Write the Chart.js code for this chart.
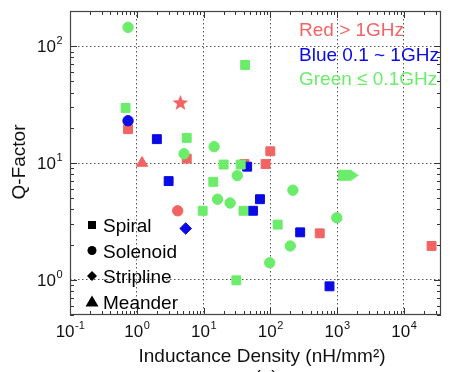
<!DOCTYPE html>
<html>
<head>
<meta charset="utf-8">
<script src="https://cdn.jsdelivr.net/npm/chart.js"></script>
<style>
  html, body { margin: 0; padding: 0; background: #fff; }
  canvas { display: block; }
</style>
</head>
<body>
<canvas id="qchart" width="452" height="372"></canvas>
<script>
// Inductance density (nH/mm^2) vs Q-factor, grouped by operating frequency
const redX = [0.74, 4.5, 1.2, 5.6, 41, 85, 100, 4.1, 550, 26000];
const redY = [19.5, 33, 10, 10.9, 9.8, 9.8, 12.6, 3.9, 2.5, 1.95];
const redShape = ['rect', 'star', 'triangle', 'rect', 'rect', 'rect', 'rect', 'circle', 'rect', 'rect'];

const blueX = [0.74, 2.0, 3.0, 5.4, 45, 55, 70, 280, 770];
const blueY = [23, 16, 7.0, 2.75, 9.3, 3.9, 4.9, 2.55, 0.88];
const blueShape = ['circle', 'rect', 'rect', 'diamond', 'rect', 'rect', 'rect', 'rect', 'rect'];

const greenX = [0.74, 0.68, 42, 5.6, 14.4, 5.1, 20, 36, 32, 14, 16.2, 25, 9.7, 39.6, 31, 1500, 218, 129, 199, 990, 98];
const greenY = [145, 29.6, 69, 16.4, 13.8, 12, 9.7, 9.7, 7.8, 6.9, 4.9, 4.55, 3.9, 3.9, 0.99, 7.85, 5.85, 2.97, 1.95, 3.4, 1.4];
const greenShape = ['circle', 'rect', 'rect', 'rect', 'circle', 'circle', 'rect', 'rect', 'circle', 'rect', 'circle', 'circle',
  'rect', 'rect', 'rect', 'arrow', 'circle', 'rect', 'circle', 'circle', 'circle'];

const xExps = [-1, 0, 1, 2, 3, 4];
const yExps = [0, 1, 2];
const bandLabels = ['Red > 1GHz', 'Blue 0.1 ~ 1GHz', 'Green \u2264 0.1GHz'];
const shapeLabels = ['Spiral', 'Solenoid', 'Stripline', 'Meander'];
const shapeKeys = ['rect', 'circle', 'diamond', 'triangle'];

const RED = '#f26464';
const BLUE = '#0a0ae6';
const GREEN = '#6bec6b';
const FONT = '"Liberation Sans", Arial, sans-serif';

// filled five point star, drawn once into a small canvas
function makeStar(color) {
  const c = document.createElement('canvas');
  c.width = 17; c.height = 17;
  const g = c.getContext('2d');
  g.fillStyle = color;
  g.beginPath();
  for (let i = 0; i < 10; i++) {
    const r = i % 2 === 0 ? 8.3 : 3.5;
    const a = -Math.PI / 2 + i * Math.PI / 5;
    g.lineTo(8.5 + r * Math.cos(a), 9.2 + r * Math.sin(a));
  }
  g.closePath();
  g.fill();
  return c;
}

// right pointing block arrow
function makeArrow(color) {
  const c = document.createElement('canvas');
  c.width = 22; c.height = 13;
  const g = c.getContext('2d');
  g.fillStyle = color;
  g.beginPath();
  g.moveTo(0, 1); g.lineTo(13, 1); g.lineTo(21, 6.5); g.lineTo(13, 12); g.lineTo(0, 12);
  g.closePath();
  g.fill();
  return c;
}

const customStyles = { star: makeStar(RED), arrow: makeArrow(GREEN) };
const styleOf = s => customStyles[s] || ({ rect: 'rect', circle: 'circle', diamond: 'rectRot', triangle: 'triangle' })[s];
const radiusOf = s => ({ rect: 6.3, circle: 5.2, diamond: 5.8, triangle: 6.5, star: 8, arrow: 10 })[s];

function series(label, xs, ys, shapes, color) {
  return {
    label,
    data: xs.map((v, i) => ({ x: v, y: ys[i] })),
    pointStyle: shapes.map(styleOf),
    pointRadius: shapes.map(radiusOf),
    backgroundColor: color,
    borderColor: color,
    pointBorderWidth: 1
  };
}

const isDecade = v => Math.abs(Math.log10(v) - Math.round(Math.log10(v))) < 1e-6;

function drawPow(ctx, exp, x, y, align) {
  ctx.font = '17px ' + FONT;
  const base = '10';
  const wb = ctx.measureText(base).width;
  ctx.font = '11px ' + FONT;
  const sup = String(exp);
  const ws = ctx.measureText(sup).width;
  let left = align === 'center' ? x - (wb + ws) / 2 : x - (wb + ws);
  ctx.font = '17px ' + FONT;
  ctx.fillText(base, left, y);
  ctx.font = '11px ' + FONT;
  ctx.fillText(sup, left + wb + 0.5, y - 8);
}

function drawMarker(ctx, shape, x, y) {
  ctx.beginPath();
  if (shape === 'rect') {
    ctx.rect(x - 4, y - 4, 8, 8);
  } else if (shape === 'circle') {
    ctx.arc(x, y, 4.5, 0, Math.PI * 2);
  } else if (shape === 'diamond') {
    ctx.moveTo(x, y - 5); ctx.lineTo(x + 5, y); ctx.lineTo(x, y + 5); ctx.lineTo(x - 5, y);
  } else {
    ctx.moveTo(x, y - 6); ctx.lineTo(x + 6.5, y + 5); ctx.lineTo(x - 6.5, y + 5);
  }
  ctx.closePath();
  ctx.fill();
}

const frameAndText = {
  id: 'frameAndText',
  afterDraw(chart) {
    const { ctx, chartArea: a, scales: { x, y } } = chart;
    ctx.save();

    // minor / major tick marks pointing into the plot
    ctx.strokeStyle = '#333';
    ctx.lineWidth = 1;
    ctx.beginPath();
    for (let e = -1; e <= 4; e++) {
      for (let k = 1; k <= 9; k++) {
        const v = k * Math.pow(10, e);
        if (v < x.min || v > x.max) continue;
        const px = Math.round(x.getPixelForValue(v)) + 0.5;
        const len = k === 1 ? 7 : 4;
        ctx.moveTo(px, a.bottom); ctx.lineTo(px, a.bottom - len);
        ctx.moveTo(px, a.top); ctx.lineTo(px, a.top + len);
      }
    }
    for (let e = -1; e <= 2; e++) {
      for (let k = 1; k <= 9; k++) {
        const v = k * Math.pow(10, e);
        if (v < y.min || v > y.max) continue;
        const py = Math.round(y.getPixelForValue(v)) + 0.5;
        const len = k === 1 ? 7 : 4;
        ctx.moveTo(a.left, py); ctx.lineTo(a.left + len, py);
        ctx.moveTo(a.right, py); ctx.lineTo(a.right - len, py);
      }
    }
    ctx.stroke();

    // plot frame
    ctx.strokeStyle = '#444';
    ctx.lineWidth = 1.2;
    ctx.strokeRect(a.left + 0.5, a.top + 0.5, a.right - a.left - 1, a.bottom - a.top - 1);

    // power-of-ten tick labels
    ctx.fillStyle = '#111';
    ctx.textBaseline = 'alphabetic';
    ctx.textAlign = 'left';
    xExps.forEach(e => drawPow(ctx, e, x.getPixelForValue(Math.pow(10, e)), a.bottom + 22, 'center'));
    yExps.forEach(e => drawPow(ctx, e, a.left - 8, y.getPixelForValue(Math.pow(10, e)) + 6, 'right'));

    // axis titles
    ctx.font = '19px ' + FONT;
    ctx.textAlign = 'center';
    ctx.fillText('Inductance Density (nH/mm\u00b2)', 262, 362);
    ctx.fillText('(a)', 266, 383);
    ctx.save();
    ctx.translate(25, 162);
    ctx.rotate(-Math.PI / 2);
    ctx.fillText('Q-Factor', 0, 0);
    ctx.restore();

    // frequency band key
    ctx.textAlign = 'left';
    const bandColors = [RED, BLUE, GREEN];
    bandLabels.forEach((t, i) => {
      ctx.fillStyle = bandColors[i];
      ctx.fillText(t, 299, 36 + i * 24.5);
    });

    // structure type key
    ctx.fillStyle = '#000';
    shapeLabels.forEach((t, i) => {
      const cy = 225 + i * 25.5;
      drawMarker(ctx, shapeKeys[i], 92, cy);
      ctx.fillText(t, 103, cy + 7);
    });

    ctx.restore();
  }
};

const gridColor = c => (c.tick && isDecade(c.tick.value)) ? '#555' : 'rgba(0,0,0,0)';

new Chart(document.getElementById('qchart'), {
  type: 'scatter',
  data: {
    datasets: [
      series('Green', greenX, greenY, greenShape, GREEN),
      series('Blue', blueX, blueY, blueShape, BLUE),
      series('Red', redX, redY, redShape, RED)
    ]
  },
  options: {
    responsive: false,
    animation: false,
    events: [],
    layout: { padding: { left: 70, top: 5, right: 0, bottom: 57 } },
    plugins: { legend: { display: false }, tooltip: { enabled: false } },
    scales: {
      x: {
        type: 'logarithmic',
        min: 0.1,
        max: 36000,
        ticks: { display: false, autoSkip: false },
        grid: { color: gridColor, lineWidth: 1, drawTicks: false },
        border: { display: false, dash: [1.5, 2.5] }
      },
      y: {
        type: 'logarithmic',
        min: 0.5,
        max: 200,
        ticks: { display: false, autoSkip: false },
        grid: { color: gridColor, lineWidth: 1, drawTicks: false },
        border: { display: false, dash: [1.5, 2.5] }
      }
    }
  },
  plugins: [frameAndText]
});
</script>
</body>
</html>
